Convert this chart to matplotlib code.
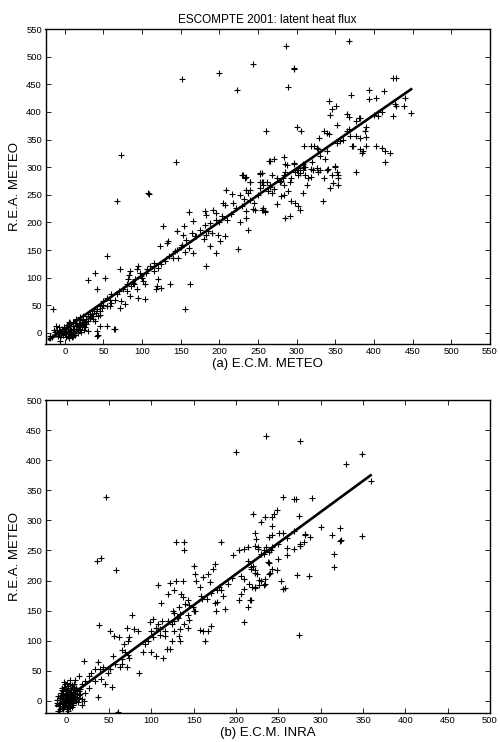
import numpy as np
import matplotlib
matplotlib.use("Agg")
import matplotlib.pyplot as plt

plt.rcParams.update({
    "font.family": ["Liberation Sans", "DejaVu Sans"],
    "xtick.direction": "in",
    "ytick.direction": "in",
    "xtick.top": True,
    "ytick.right": True,
})

# ---- panel (a): E.C.M. METEO vs R.E.A. METEO ----
pts_a = [
    (152, 459), (200, 470), (243, 487), (223, 439), (260, 365), (73, 322), (144, 309), (264, 312),
    (230, 285), (235, 282), (253, 290), (286, 520), (367, 529), (296, 480), (297, 478), (289, 445),
    (425, 461), (429, 461), (394, 440), (370, 431), (413, 437), (393, 423), (403, 425), (342, 420),
    (351, 410), (346, 405), (343, 395), (427, 414), (428, 410), (439, 410), (448, 398), (424, 393),
    (405, 393), (365, 397), (367, 391), (380, 389), (382, 389), (377, 384), (352, 377), (300, 373),
    (306, 366), (335, 366), (339, 362), (342, 360), (368, 369), (365, 366), (390, 373), (388, 366),
    (369, 356), (377, 356), (390, 354), (382, 353), (329, 353), (356, 348), (352, 344), (309, 339),
    (319, 338), (322, 339), (326, 335), (328, 332), (371, 339), (373, 338), (382, 333), (386, 329),
    (384, 326), (390, 339), (403, 339), (410, 335), (414, 329), (420, 326), (414, 309), (339, 329),
    (336, 315), (265, 312), (270, 314), (283, 319), (285, 306), (288, 304), (296, 306), (300, 294),
    (304, 299), (308, 306), (311, 301), (319, 296), (326, 299), (330, 294), (341, 296), (349, 301),
    (352, 291), (354, 286), (377, 292), (255, 290), (268, 285), (282, 280), (293, 280), (302, 285),
    (349, 303), (339, 295), (345, 286), (353, 280), (335, 280), (354, 268), (347, 271), (343, 262),
    (328, 292), (321, 294), (319, 283), (315, 280), (311, 286), (308, 295), (304, 290), (302, 295),
    (298, 292), (296, 308), (285, 292), (283, 286), (291, 274), (289, 256), (283, 268), (278, 274),
    (274, 280), (265, 268), (268, 253), (263, 256), (255, 274), (257, 274), (252, 262), (239, 274),
    (239, 259), (274, 234), (283, 250), (280, 247), (308, 253), (313, 267), (334, 238), (293, 238),
    (298, 236), (302, 229), (304, 223), (285, 208), (291, 211), (246, 223), (257, 223), (259, 219),
    (108, 253), (109, 252), (68, 238), (229, 285), (233, 281), (239, 273), (253, 288), (252, 274),
    (256, 268), (261, 273), (265, 265), (234, 259), (237, 253), (226, 249), (232, 243), (209, 258),
    (216, 252), (204, 235), (207, 232), (217, 236), (222, 226), (229, 229), (234, 220), (244, 225),
    (255, 223), (259, 220), (256, 226), (235, 208), (226, 200), (237, 187), (161, 218), (181, 220),
    (183, 214), (192, 223), (195, 217), (203, 211), (196, 204), (188, 199), (181, 196), (175, 187),
    (183, 178), (191, 181), (198, 178), (207, 176), (201, 166), (188, 157), (195, 145), (224, 151),
    (183, 121), (166, 202), (154, 193), (145, 184), (153, 178), (164, 181), (168, 175), (157, 169),
    (151, 160), (160, 154), (166, 145), (147, 136), (155, 146), (142, 148), (132, 163), (134, 166),
    (123, 158), (127, 194), (162, 88), (156, 43), (136, 88), (125, 82), (119, 85), (121, 97),
    (118, 79), (110, 121), (116, 127), (106, 115), (97, 109), (99, 103), (93, 115), (95, 121),
    (84, 112), (82, 97), (88, 91), (80, 88), (71, 115), (83, 104), (101, 94), (91, 97),
    (104, 88), (93, 79), (54, 140), (39, 109), (30, 95), (52, 100), (41, 79), (95, 64),
    (104, 62), (84, 66), (73, 58), (67, 70), (60, 55), (78, 52), (71, 46), (54, 64),
    (58, 49), (50, 58), (45, 49), (41, 43), (37, 31), (43, 31), (32, 28), (28, 22),
    (39, 22), (45, 13), (54, 13), (63, 8), (24, 16), (19, 16), (11, 13), (6, 16),
    (15, 7), (-15, 44), (-11, 13), (-6, 4), (-2, 1), (2, 7), (-4, 8), (0, -2),
    (4, -5), (-19, -5), (-13, 1), (-9, -5), (43, -4), (11, -5), (-19, -10), (-6, -14),
    (11, -6), (30, 4), (42, 4), (42, -6), (65, 7), (0, 0), (2, 3), (5, 2),
    (8, 5), (10, 8), (3, 10), (-3, 3), (-5, -3), (6, -2), (12, 2), (15, 12),
    (18, 10), (20, 15), (22, 20), (25, 18), (7, 12), (-2, 6), (1, -8), (13, 18),
    (17, 5), (-8, 0), (9, -3), (27, 25), (30, 30), (33, 27), (35, 35), (26, 10),
    (20, 25), (14, 26), (5, 20), (60, 70), (65, 60), (70, 75), (75, 80), (80, 75),
    (85, 85), (90, 88), (100, 100), (105, 108), (115, 112), (120, 118), (125, 125), (130, 130),
    (135, 140), (140, 135), (145, 150), (150, 155), (170, 175), (180, 170), (185, 185), (200, 200),
    (210, 205), (215, 215), (240, 240), (245, 235), (250, 250), (270, 260), (280, 275), (310, 300),
    (320, 310), (330, 320), (360, 350), (400, 395), (410, 400), (440, 425),
    (-10, 5), (-8, 10), (-6, -8), (-4, 0), (-2, -4), (0, 4), (2, -2), (4, 8),
    (6, 4), (8, 0), (10, 2), (12, 8), (14, 4), (16, 14), (18, 18), (20, 8),
    (22, 12), (24, 24), (26, 20), (28, 16), (30, 22), (32, 34), (34, 30), (36, 26),
    (38, 40), (40, 36), (-12, -2), (-14, 6), (-16, -8), (3, 14), (7, 18), (11, 20),
    (15, 24), (19, 28), (23, 30), (9, -8), (13, -4), (17, 0), (21, 2), (25, 6),
    (-1, 10), (5, -10), (45, 40), (48, 45), (50, 50), (46, 32), (55, 48), (58, 60),
]
xa = [p[0] for p in pts_a]
ya = [p[1] for p in pts_a]
fit_a = (0.968, 7.4)          # slope, intercept
fit_a_range = (-20, 448)

# ---- panel (b): E.C.M. INRA vs R.E.A. METEO ----
pts_b = [
    (46, 339), (200, 413), (236, 440), (276, 432), (349, 410), (330, 393), (360, 365),
    (255, 339), (268, 336), (271, 336), (290, 338), (220, 311), (234, 306), (243, 306), (245, 311),
    (249, 318), (229, 297), (243, 291), (274, 307), (300, 289), (323, 287), (313, 275), (324, 268),
    (349, 274), (282, 275), (287, 273), (281, 278), (222, 279), (224, 269), (239, 272), (242, 275),
    (251, 279), (255, 279), (269, 283), (235, 256), (226, 256), (243, 256), (260, 254), (269, 253),
    (276, 261), (280, 264), (274, 109), (316, 244), (316, 222), (323, 265), (260, 242), (276, 258),
    (250, 236), (239, 230), (243, 219), (249, 217), (239, 211), (272, 210), (286, 207), (253, 199),
    (255, 186), (258, 187), (227, 201), (222, 188), (233, 192), (234, 195), (229, 244), (233, 250),
    (220, 225), (222, 212), (218, 219), (218, 167), (36, 233), (41, 238), (58, 218), (38, 126),
    (77, 142), (86, 47), (61, -19), (-12, 1), (-10, -17), (37, 6), (54, 23), (18, -6),
    (20, 0), (129, 264), (139, 264), (139, 250), (182, 264), (197, 243), (204, 250), (210, 252),
    (214, 255), (222, 257), (226, 252), (233, 244), (239, 247), (241, 250), (214, 233), (218, 223),
    (222, 217), (225, 211), (206, 207), (210, 203), (215, 194), (219, 189), (229, 200), (234, 203),
    (240, 212), (238, 231), (227, 192), (222, 189), (209, 186), (206, 178), (204, 167), (217, 167),
    (214, 156), (210, 132), (150, 225), (152, 211), (161, 206), (167, 211), (175, 227), (173, 219),
    (169, 197), (153, 200), (157, 189), (178, 184), (182, 184), (159, 175), (166, 169), (175, 162),
    (178, 164), (176, 150), (187, 153), (171, 125), (161, 117), (167, 116), (157, 118), (163, 100),
    (108, 193), (122, 196), (129, 199), (137, 199), (120, 178), (127, 184), (135, 177), (137, 172),
    (143, 167), (145, 160), (149, 156), (152, 150), (140, 161), (133, 156), (125, 149), (127, 146),
    (134, 144), (143, 142), (145, 134), (139, 128), (143, 122), (134, 119), (127, 117), (133, 108),
    (134, 100), (124, 100), (122, 86), (118, 86), (114, 72), (106, 75), (113, 133), (112, 162),
    (102, 136), (98, 131), (106, 122), (100, 117), (102, 106), (110, 110), (116, 108), (96, 100),
    (92, 94), (90, 81), (100, 81), (108, 128), (110, 119), (116, 117), (120, 133), (124, 128),
    (127, 133), (131, 138), (51, 116), (56, 108), (62, 106), (71, 121), (80, 119), (84, 117),
    (74, 106), (72, 100), (68, 94), (65, 84), (69, 81), (73, 77), (74, 72), (65, 69),
    (55, 75), (57, 62), (65, 61), (71, 57), (63, 56), (51, 53), (49, 47), (43, 56),
    (39, 53), (33, 53), (29, 47), (26, 42), (21, 66), (37, 64), (14, 42), (10, 34),
    (22, 33), (33, 33), (41, 36), (45, 28), (26, 22), (18, 28), (4, 34), (8, 22),
    (14, 17), (22, 14), (10, 11), (0, 14), (-4, 17), (4, 6), (-4, 6), (59, -21),
    (-9, -17), (0, 0), (-2, 2), (2, -3), (-5, -5), (5, 3), (-7, 8), (1, 10),
    (3, -8), (-3, -10), (6, -1), (8, 8), (-1, 20), (2, 25), (-4, 12), (4, 15),
    (-8, -3), (7, -6), (10, 4), (-6, 22), (0, -14), (3, 5), (-3, -2), (1, 3),
    (-1, -6), (5, 10), (-5, 3), (12, 12), (9, 18), (-2, 28), (6, 27), (15, 5),
    (-10, 8), (2, 18), (-1, 12), (0, 6), (4, -12), (-6, -12), (13, -2), (11, 22),
    (16, 20), (130, 140), (150, 150), (160, 170), (170, 180), (180, 190), (190, 195), (195, 205),
    (185, 175), (250, 260), (260, 270),
    (-8, 5), (-6, 0), (-4, -4), (-2, -8), (0, -10), (2, -6), (4, -2), (6, 2),
    (8, -4), (-7, 14), (-5, 18), (-3, 24), (-1, 16), (1, 22), (3, 12), (5, 18),
    (7, 14), (9, 8), (11, 0), (-9, -8), (-11, -4), (-6, 6), (-2, 10), (2, 8),
    (6, 6), (10, 14), (12, 6), (14, 10), (-4, -14), (2, -16), (6, -10), (-8, -14),
    (0, 30), (-3, 32), (4, 28), (8, 24), (12, 18), (16, 12), (18, 4), (-1, -2),
    (1, 1), (3, 0), (-2, 4), (0, 8), (5, -4), (-5, 10), (7, 20), (9, 28),
]
xb = [p[0] for p in pts_b]
yb = [p[1] for p in pts_b]
fit_b = (1.032, 4.4)
fit_b_range = (-12, 359)

fig = plt.figure(figsize=(5.0, 7.42), dpi=100)
ax1 = fig.add_axes([0.091, 0.5364, 0.889, 0.4245])
ax2 = fig.add_axes([0.091, 0.0391, 0.889, 0.4218])


def panel(ax, x, y, fit, frange, lim, xlab):
    ax.plot(x, y, "+", color="black", ms=4.4, mew=0.8, ls="none")
    fx = np.array(frange)
    ax.plot(fx, fit[0] * fx + fit[1], color="black", lw=1.9)
    ax.set_xlim(-25, lim)
    ax.set_ylim(-20, lim)
    ticks = np.arange(0, lim + 1, 50)
    ax.set_xticks(ticks)
    ax.set_yticks(ticks)
    ax.tick_params(labelsize=6.8, length=3.5, width=0.6, pad=2.5)
    for s in ax.spines.values():
        s.set_linewidth(1.0)
    ax.set_xlabel(xlab, fontsize=9.5, labelpad=1)
    ax.set_ylabel("R.E.A. METEO", fontsize=9.5, labelpad=4)


panel(ax1, xa, ya, fit_a, fit_a_range, 550, "(a) E.C.M. METEO")
panel(ax2, xb, yb, fit_b, fit_b_range, 500, "(b) E.C.M. INRA")
ax1.set_title("ESCOMPTE 2001: latent heat flux", fontsize=8.5, pad=4)

fig.savefig("out.png", dpi=100)
